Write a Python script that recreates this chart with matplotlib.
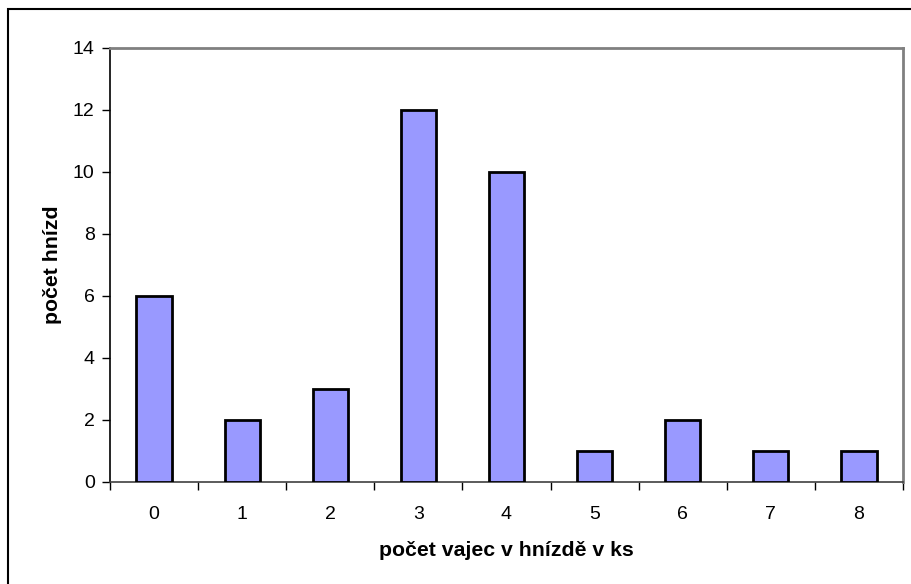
import matplotlib.pyplot as plt
from matplotlib.patches import Rectangle

plt.rcParams['font.family'] = ['Liberation Sans', 'DejaVu Sans']

eggs = ['0', '1', '2', '3', '4', '5', '6', '7', '8']
nests = [6, 2, 3, 12, 10, 1, 2, 1, 1]

fig = plt.figure(figsize=(9.11, 5.84), dpi=100)
ax = fig.add_axes([110 / 911, 1 - 482 / 584, 793 / 911, 434 / 584])

x = range(len(eggs))
ax.bar(x, nests, width=0.4, color='#9999FF', edgecolor='black', linewidth=2, zorder=3)

ax.set_xlim(-0.5, len(eggs) - 0.5)
ax.set_ylim(0, 14)
ax.set_yticks(range(0, 15, 2))
ax.set_xticks(x)
ax.set_xticklabels(eggs)
# category ticks sit between the bars
ax.set_xticks([i + 0.5 for i in range(-1, len(eggs))], minor=True)
ax.tick_params(axis='x', which='major', length=0, pad=17, labelsize=14)
ax.tick_params(axis='x', which='minor', length=6, width=1, direction='out')
ax.tick_params(axis='y', length=6, width=1, direction='out', pad=5, labelsize=14)

for side in ['top', 'right']:
    ax.spines[side].set_color('#808080')
    ax.spines[side].set_linewidth(2)
ax.spines['left'].set_linewidth(1.2)
ax.spines['bottom'].set_linewidth(1.2)
ax.spines['bottom'].set_color('#404040')

ax.set_xlabel('počet vajec v hnízdě v ks', fontsize=15.3, fontweight='bold', labelpad=13)
ax.set_ylabel('počet hnízd', fontsize=15.3, fontweight='bold', labelpad=8)

# chart area frame
fig.patches.append(Rectangle((8 / 911, -0.05), 1.1, 1 - 9 / 584 + 0.05,
                             transform=fig.transFigure, fill=False,
                             edgecolor='black', linewidth=1.5))

plt.savefig('out.png', dpi=100)
